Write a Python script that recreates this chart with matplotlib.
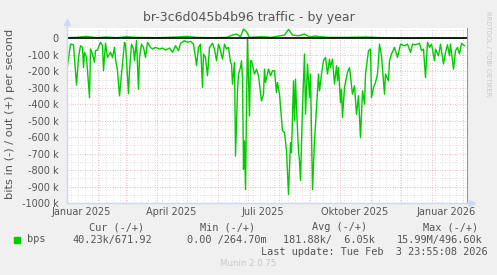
import matplotlib
matplotlib.use("Agg")
import matplotlib.pyplot as plt
import matplotlib.dates as mdates
from matplotlib.ticker import MultipleLocator, FuncFormatter, NullFormatter
from matplotlib.lines import Line2D
from datetime import datetime, timedelta

# ── Daten (Tage seit 1.1.2025, Werte in kbit/s) ─────────────────────────────
in_days = [1, 4, 7, 9, 10, 12, 14, 16, 17, 18, 20, 21, 23, 24, 26, 28, 29, 31,
           34, 36, 37, 39, 41, 44, 46, 48, 49, 51, 53, 55, 58, 59, 62, 63, 65,
           67, 68, 70, 72, 73, 75, 77, 79, 81, 84, 86, 89, 93, 96, 99, 103, 106,
           109, 112, 114, 118, 121, 124, 127, 129, 130, 132, 134, 136, 137, 139,
           141, 143, 146, 148, 150, 152, 154, 156, 158, 160, 162, 164, 165, 166,
           168, 169, 171, 172, 174, 175, 176, 177, 178, 179, 180, 181, 183, 184,
           185, 188, 190, 192, 195, 197, 198, 199, 202, 204, 206, 208, 210, 211,
           213, 216, 218, 220, 222, 224, 225, 227, 228, 229, 230, 232, 233, 234,
           236, 238, 239, 241, 243, 244, 246, 248, 250, 252, 253, 255, 257, 259,
           261, 263, 264, 266, 268, 270, 271, 272, 274, 275, 276, 278, 279, 281,
           283, 286, 288, 290, 292, 294, 296, 298, 299, 302, 304, 305, 307, 309,
           311, 313, 315, 318, 319, 322, 323, 325, 328, 331, 334, 338, 341, 344,
           346, 349, 353, 355, 357, 359, 361, 363, 365, 368, 369, 372, 374, 377,
           379, 381, 383, 384, 387, 389, 391, 393, 395, 398]
in_kbps = [-166, -35, -39, -207, -284, -116, -45, -55, -177, -85, -116, -197,
           -359, -65, -95, -146, -75, -71, -24, -45, -197, -30, -116, -85, -116,
           -55, -126, -197, -349, -217, -24, -35, -335, -197, -35, -65, -136,
           -14, -309, -116, -35, -55, -116, -24, -55, -65, -55, -65, -59, -71,
           -59, -85, -45, -75, -30, -14, -24, -18, -35, -116, -166, -55, -35,
           -298, -95, -116, -227, -55, -30, -65, -136, -35, -75, -126, -35, -65,
           -55, -146, -156, -278, -146, -715, -319, -217, -177, -136, -238,
           -796, -623, -918, -420, -4, -471, -136, -136, -217, -187, -227, -380,
           -339, -187, -268, -187, -227, -197, -197, -329, -268, -339, -562,
           -572, -684, -948, -633, -694, -258, -501, -248, -420, -684, -745,
           -863, -420, -95, -461, -156, -359, -217, -918, -623, -420, -217,
           -319, -217, -136, -116, -217, -126, -177, -126, -278, -166, -258,
           -177, -390, -309, -481, -298, -268, -207, -177, -339, -288, -461,
           -349, -603, -319, -400, -217, -75, -65, -359, -298, -268, -217, -35,
           -106, -339, -217, -258, -136, -95, -55, -116, -35, -45, -35, -85,
           -35, -39, -30, -75, -65, -238, -24, -55, -35, -136, -65, -106, -35,
           -156, -85, -39, -106, -35, -187, -75, -55, -95, -30, -45]

out_days = [0, 10, 20, 30, 40, 50, 60, 70, 90, 110, 120, 130, 145, 160, 166,
            170, 174, 177, 180, 183, 195, 205, 212, 218, 222, 226, 232, 238,
            243, 248, 255, 262, 280, 300, 315, 325, 330, 345, 360, 368, 375,
            390, 398]
out_kbps = [4, 6, 12, 4, 8, 4, 10, 6, 4, 8, 12, 6, 4, 6, 20, 26, 10, 57, 40, 6,
            10, 6, 14, 20, 55, 20, 16, 26, 8, 14, 10, 6, 6, 8, 4, 2, 0, 0, 2, 3,
            0, 1, 1]

monat_labels = ["Januar 2025", "April 2025", "Juli 2025", "Oktober 2025", "Januar 2026"]
monat_pos    = [datetime(2025, 1, 16), datetime(2025, 4, 16), datetime(2025, 7, 16),
                datetime(2025, 10, 16), datetime(2026, 1, 16)]

titel = "br-3c6d045b4b96 traffic - by year"
kopf  = ["Cur (-/+)", "Min (-/+)", "Avg (-/+)", "Max (-/+)"]
werte = ["40.23k/671.92", "0.00 /264.70m", "181.88k/  6.05k", "15.99M/496.60k"]
update = "Last update: Tue Feb  3 23:55:08 2026"

# ── Figur ───────────────────────────────────────────────────────────────────
W, H = 497, 275
GRUEN = "#00CC00"
FONT = "#555555"
ACHSE = "#CFD6F8"

fig = plt.figure(figsize=(W / 100, H / 100), dpi=100, facecolor="#F0F0F0")
ax = fig.add_axes([66.5 / W, (H - 203) / H, 400 / W, 175 / H])
ax.set_facecolor("white")

start = datetime(2025, 1, 1)
x0 = mdates.date2num(start)
x_in = [x0 + d for d in in_days]
x_out = [x0 + d for d in out_days]

ax.plot(x_in, in_kbps, color=GRUEN, lw=1.0, zorder=3)
ax.plot(x_out, out_kbps, color=GRUEN, lw=1.0, zorder=3)
ax.axhline(0, color="black", lw=1.2, zorder=4)

ax.set_xlim(x0, x0 + 400)
ax.set_ylim(-1000, 63)

# Gitter
ax.xaxis.set_major_locator(mdates.MonthLocator())
ax.xaxis.set_minor_locator(mdates.WeekdayLocator(byweekday=mdates.SU))
ax.xaxis.set_major_formatter(NullFormatter())
ax.yaxis.set_major_locator(MultipleLocator(100))
ax.yaxis.set_minor_locator(MultipleLocator(50))
ax.yaxis.set_major_formatter(FuncFormatter(lambda v, p: "0" if v == 0 else f"{int(v)} k"))
ax.grid(which="minor", color="#d8d8d8", lw=0.6, linestyle=(0, (1, 2)), zorder=1)
ax.grid(which="major", color="#eba3a3", lw=0.6, linestyle=(0, (1, 2)), zorder=2)
ax.set_axisbelow(True)
ax.tick_params(which="both", length=0)
ax.tick_params(axis="y", pad=5.8, labelsize=7, labelcolor=FONT)

for lab, pos in zip(monat_labels, monat_pos):
    ax.text(mdates.date2num(pos), -0.052, lab, transform=ax.get_xaxis_transform(),
            ha="center", va="center", fontsize=7, color=FONT)

ax.spines["top"].set_visible(False)
ax.spines["right"].set_color("#999999")
ax.spines["left"].set_color(ACHSE)
ax.spines["bottom"].set_color(ACHSE)

# Pfeile der Achsen
def fx(px):
    return px / W

def fy(py):
    return 1 - py / H

fig.add_artist(Line2D([fx(66.5), fx(66.5)], [fy(203), fy(23)], color=ACHSE, lw=1))
fig.add_artist(Line2D([fx(66.5), fx(471)], [fy(203), fy(203)], color=ACHSE, lw=1))
fig.add_artist(Line2D([fx(66.5)], [fy(22)], marker="^", ms=5, color=ACHSE, lw=0))
fig.add_artist(Line2D([fx(472)], [fy(203)], marker=">", ms=5, color=ACHSE, lw=0))

# Texte
fig.text(fx(249), fy(17), titel, ha="center", va="center", fontsize=9, color=FONT)
fig.text(fx(10), fy(114), "bits in (-) / out (+) per second", rotation=90,
         ha="center", va="center", fontsize=8.2, color=FONT)
fig.text(fx(488), fy(54), "RRDTOOL / TOBI OETIKER", rotation=270,
         ha="center", va="center", fontsize=4.8, color="#c8c8c8")

mono = dict(family="DejaVu Sans Mono", fontsize=7.4, color=FONT, va="center", ha="left")
for txt, px in zip(kopf, [89, 200, 312, 423]):
    fig.text(fx(px), fy(227.3), txt, **mono)
fig.add_artist(Line2D([fx(17)], [fy(240)], marker="s", ms=4.5, color=GRUEN, lw=0))
fig.text(fx(27), fy(239.5), "bps", **mono)
for txt, px in zip(werte, [72, 187, 283, 397]):
    fig.text(fx(px), fy(239.5), txt, **mono)
fig.text(fx(261), fy(252), update, **mono)
fig.text(fx(248), fy(264), "Munin 2.0.75", ha="center", va="center",
         fontsize=6.2, color="#c8c8c8")

plt.savefig("out.png", dpi=100, facecolor=fig.get_facecolor())
